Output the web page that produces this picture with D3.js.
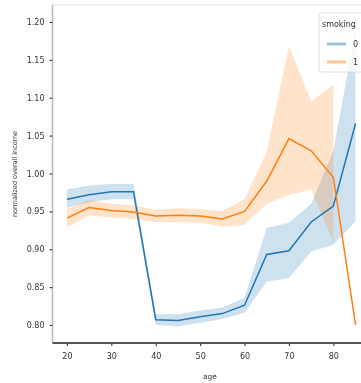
<!DOCTYPE html>
<html>
<head>
<meta charset="utf-8">
<script src="https://cdn.jsdelivr.net/npm/d3@7"></script>
<style>
  html, body { margin: 0; padding: 0; background: #fff; }
  svg { display: block; filter: blur(0.45px); }
  text { font-family: "DejaVu Sans", sans-serif; fill: #333; }
</style>
</head>
<body>
<svg id="chart"></svg>
<script>
// Ages sampled every 5 years.
const ages = [20, 25, 30, 35, 40, 45, 50, 55, 60, 65, 70, 75, 80, 85];

// smoking = 0
const mean0 = [0.966, 0.972, 0.976, 0.976, 0.807, 0.806, 0.811, 0.815, 0.826, 0.893, 0.898, 0.936, 0.957, 1.066];
const low0  = [0.955, 0.962, 0.966, 0.966, 0.800, 0.798, 0.803, 0.808, 0.816, 0.857, 0.862, 0.897, 0.906, 0.937];
const high0 = [0.979, 0.984, 0.986, 0.986, 0.814, 0.814, 0.819, 0.823, 0.836, 0.928, 0.935, 0.960, 1.030, 1.190];

// smoking = 1 (one observation at 85, so no band there)
const mean1 = [0.941, 0.955, 0.951, 0.949, 0.944, 0.945, 0.944, 0.940, 0.950, 0.990, 1.046, 1.030, 0.995, 0.800];
const low1  = [0.929, 0.945, 0.942, 0.940, 0.936, 0.936, 0.935, 0.930, 0.932, 0.960, 0.972, 0.979, 0.910, null];
const high1 = [0.953, 0.965, 0.960, 0.958, 0.952, 0.954, 0.953, 0.950, 0.966, 1.029, 1.168, 1.095, 1.117, null];

const xTicks = [20, 30, 40, 50, 60, 70, 80];
const yTicks = [0.80, 0.85, 0.90, 0.95, 1.00, 1.05, 1.10, 1.15, 1.20];
const groups = ['0', '1'];
const colors = ['#1f77b4', '#ff7f0e'];

const width = 361;
const height = 383;

const svg = d3.select('#chart')
  .attr('width', width)
  .attr('height', height);

// Axes limits follow seaborn's 5% margins around the data.
const x = d3.scaleLinear().domain([16.75, 88.25]).range([52.5, 370]);
const y = d3.scaleLinear().domain([0.7762, 1.2224]).range([343, 5]);

// Top spine (light) and left spine.
svg.append('line')
  .attr('x1', x.range()[0]).attr('x2', x.range()[1])
  .attr('y1', 5).attr('y2', 5)
  .attr('stroke', '#ddd').attr('stroke-width', 1.2);
svg.append('line')
  .attr('x1', 52.5).attr('x2', 52.5)
  .attr('y1', 5).attr('y2', 343)
  .attr('stroke', '#bbb').attr('stroke-width', 1.6);

const series = [
  { mean: mean0, low: low0, high: high0 },
  { mean: mean1, low: low1, high: high1 },
];

const area = d3.area()
  .defined(d => d.low != null)
  .x(d => x(d.age))
  .y0(d => y(d.low))
  .y1(d => y(d.high));

const line = d3.line()
  .x(d => x(d.age))
  .y(d => y(d.mean));

// Confidence bands first, then the mean lines on top.
series.forEach((s, k) => {
  const rows = ages.map((a, i) => ({ age: a, mean: s.mean[i], low: s.low[i], high: s.high[i] }));
  svg.append('path')
    .datum(rows)
    .attr('d', area)
    .attr('fill', colors[k])
    .attr('fill-opacity', 0.22);
});

series.forEach((s, k) => {
  const rows = ages.map((a, i) => ({ age: a, mean: s.mean[i] }));
  svg.append('path')
    .datum(rows)
    .attr('d', line)
    .attr('fill', 'none')
    .attr('stroke', colors[k])
    .attr('stroke-width', 1.5);
});

// Y axis
const yAxis = svg.append('g')
  .attr('transform', 'translate(52.5,0)')
  .call(d3.axisLeft(y).tickValues(yTicks).tickFormat(d3.format('.2f')).tickSize(3).tickPadding(5));
yAxis.select('.domain').remove();
yAxis.selectAll('.tick line').attr('stroke', '#444').attr('stroke-width', 1.2);
yAxis.selectAll('.tick text').style('font-size', '8px').attr('fill', '#444');

// X axis
const xAxis = svg.append('g')
  .attr('transform', 'translate(0,343)')
  .call(d3.axisBottom(x).tickValues(xTicks).tickSize(3).tickPadding(7));
xAxis.select('.domain').remove();
xAxis.selectAll('.tick line').attr('stroke', '#444').attr('stroke-width', 1.2);
xAxis.selectAll('.tick text').style('font-size', '8px').attr('fill', '#444');

// Bottom spine
svg.append('line')
  .attr('x1', 52.5).attr('x2', x.range()[1])
  .attr('y1', 343).attr('y2', 343)
  .attr('stroke', '#555').attr('stroke-width', 2);

// Axis labels
svg.append('text')
  .attr('x', 210).attr('y', 379)
  .attr('text-anchor', 'middle')
  .style('font-size', '7.5px')
  .text('age');

svg.append('text')
  .attr('transform', 'translate(17,174) rotate(-90)')
  .attr('text-anchor', 'middle')
  .style('font-size', '6.5px')
  .text('normalized overall income');

// Legend
const legend = svg.append('g').attr('transform', 'translate(319,13)');
legend.append('rect')
  .attr('width', 60).attr('height', 59)
  .attr('rx', 2)
  .attr('fill', '#fff').attr('fill-opacity', 0.8)
  .attr('stroke', '#ddd');
legend.append('text')
  .attr('x', 3).attr('y', 14)
  .style('font-size', '8px')
  .text('smoking');
groups.forEach((g, i) => {
  const ly = 31 + i * 18;
  legend.append('line')
    .attr('x1', 8).attr('x2', 27)
    .attr('y1', ly).attr('y2', ly)
    .attr('stroke', colors[i]).attr('stroke-width', 3).attr('stroke-opacity', 0.45);
  legend.append('text')
    .attr('x', 34).attr('y', ly + 3)
    .style('font-size', '8px')
    .text(g);
});
</script>
</body>
</html>
